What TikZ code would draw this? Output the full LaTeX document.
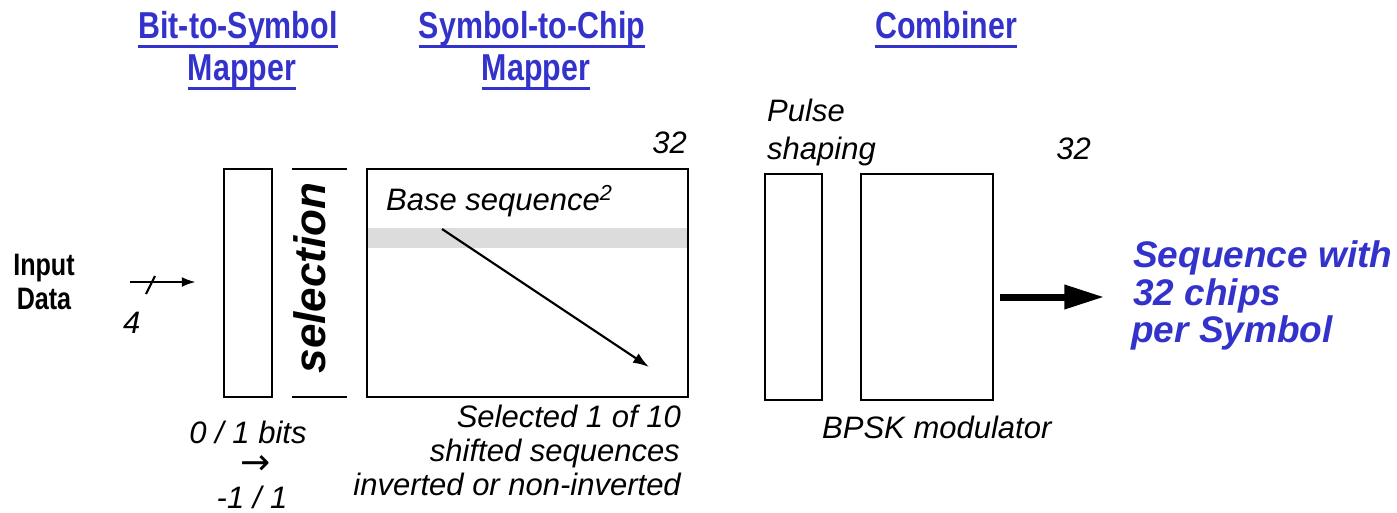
\documentclass[tikz,border=0pt]{standalone}
\usepackage{fontspec}
\setmainfont{Liberation Sans}
\newfontfamily\narrowfont[FakeStretch=0.81]{Liberation Sans}
\newfontfamily\arrowfont{DejaVu Sans}
\usetikzlibrary{arrows.meta}
\definecolor{titleblue}{RGB}{51,51,204}
\definecolor{bandgray}{RGB}{220,220,220}
\begin{document}
\begin{tikzpicture}[x=1pt,y=-1pt,
  title/.style={font=\narrowfont\bfseries\fontsize{37.5}{40}\selectfont, text=titleblue, inner sep=0pt, anchor=base},
  uline/.style={draw=titleblue, line width=3pt},
  inlbl/.style={font=\narrowfont\bfseries\fontsize{31}{34}\selectfont, inner sep=0pt, anchor=base},
  lbl/.style={font=\itshape\fontsize{31}{34}\selectfont, inner sep=0pt},
  blk/.style={draw, line width=2.5pt, inner sep=0pt},
  outtxt/.style={font=\bfseries\itshape\fontsize{37}{40}\selectfont, text=titleblue, inner sep=0pt, anchor=base west},
  thin/.style={line width=2.2pt},
]
\useasboundingbox (0,0) rectangle (1397,512);

% titles
\node[title] (t1a) at (238,38) {Bit-to-Symbol};
\node[title] (t1b) at (242,80) {Mapper};
\node[title] (t2a) at (532,38) {Symbol-to-Chip};
\node[title] (t2b) at (536,80) {Mapper};
\node[title] (t3a) at (946,38) {Combiner};
\foreach \n in {t1a,t2a,t3a,t1b,t2b}{
  \draw[uline] ([yshift=-8pt]\n.base west) -- ([yshift=-8pt]\n.base east);
}

% input
\node[inlbl] (in1) at (44,275) {Input};
\node[inlbl] (in2) at (44,309) {Data};
\node[lbl, anchor=base west] (four) at (123,333) {4};

% bit-to-symbol block
\node[blk, minimum width=48, minimum height=228] (bsm) at (248,283) {};
\coordinate (inA) at (130,282);
\draw[thin, -{Latex[length=14pt,width=10pt]}] (inA) -- ([xshift=-27pt,yshift=1pt]bsm.west);
\draw[thin] (146,294) -- (155,276);

% selection
\draw[line width=2.5pt] (292,169) -- (347,169);
\draw[line width=2.5pt] (292,397) -- (347,397);
\node[font=\bfseries\itshape\fontsize{44}{46}\selectfont, inner sep=0pt, anchor=base, rotate=90] (sel) at (325,278) {selection};

% symbol-to-chip block
\fill[bandgray] (367,228) rectangle (688,248);
\node[blk, minimum width=321, minimum height=228] (scm) at (527.5,283) {};
\node[lbl, anchor=base west] (base) at (386,210) {Base sequence\textsuperscript{2}};
\node[lbl, anchor=base east] (n32a) at (687,153) {32};
\coordinate (bsA) at (442,229);
\coordinate (bsB) at (649,367);
\draw[thin, -{Latex[length=16pt,width=11pt]}] (bsA) -- (bsB);

\node[lbl, anchor=base east] (sel1) at (681,427) {Selected 1 of 10};
\node[lbl, anchor=base east] (sel2) at (680,461) {shifted sequences};
\node[lbl, anchor=base east] (sel3) at (681,495) {inverted or non-inverted};

% bits
\node[lbl, anchor=base] (bits1) at (248,443) {0 / 1 bits};
\node[font=\arrowfont\itshape\fontsize{36}{38}\selectfont, inner sep=0pt, anchor=base] (bitsar) at (256,474) {→};
\node[lbl, anchor=base] (bits2) at (252,508) {-1 / 1};

% combiner
\node[lbl, anchor=base west] (pul1) at (767,121) {Pulse};
\node[lbl, anchor=base west] (pul2) at (767,159) {shaping};
\node[lbl, anchor=base east] (n32b) at (1091,159) {32};
\node[blk, minimum width=57, minimum height=226] (pulse) at (793.5,287) {};
\node[blk, minimum width=132, minimum height=226] (mod) at (927,287) {};
\node[lbl, anchor=base west] (bpsk) at (822,438) {BPSK modulator};

\draw[line width=7pt, -{Triangle[length=40pt,width=23pt]}] ([xshift=6pt,yshift=-10pt]mod.east) -- ([xshift=110pt,yshift=-10pt]mod.east);

% output
\node[outtxt] (o1) at (1133,267) {Sequence with};
\node[outtxt] (o2) at (1133,305) {32 chips};
\node[outtxt] (o3) at (1131,342) {per Symbol};
\end{tikzpicture}
\end{document}
